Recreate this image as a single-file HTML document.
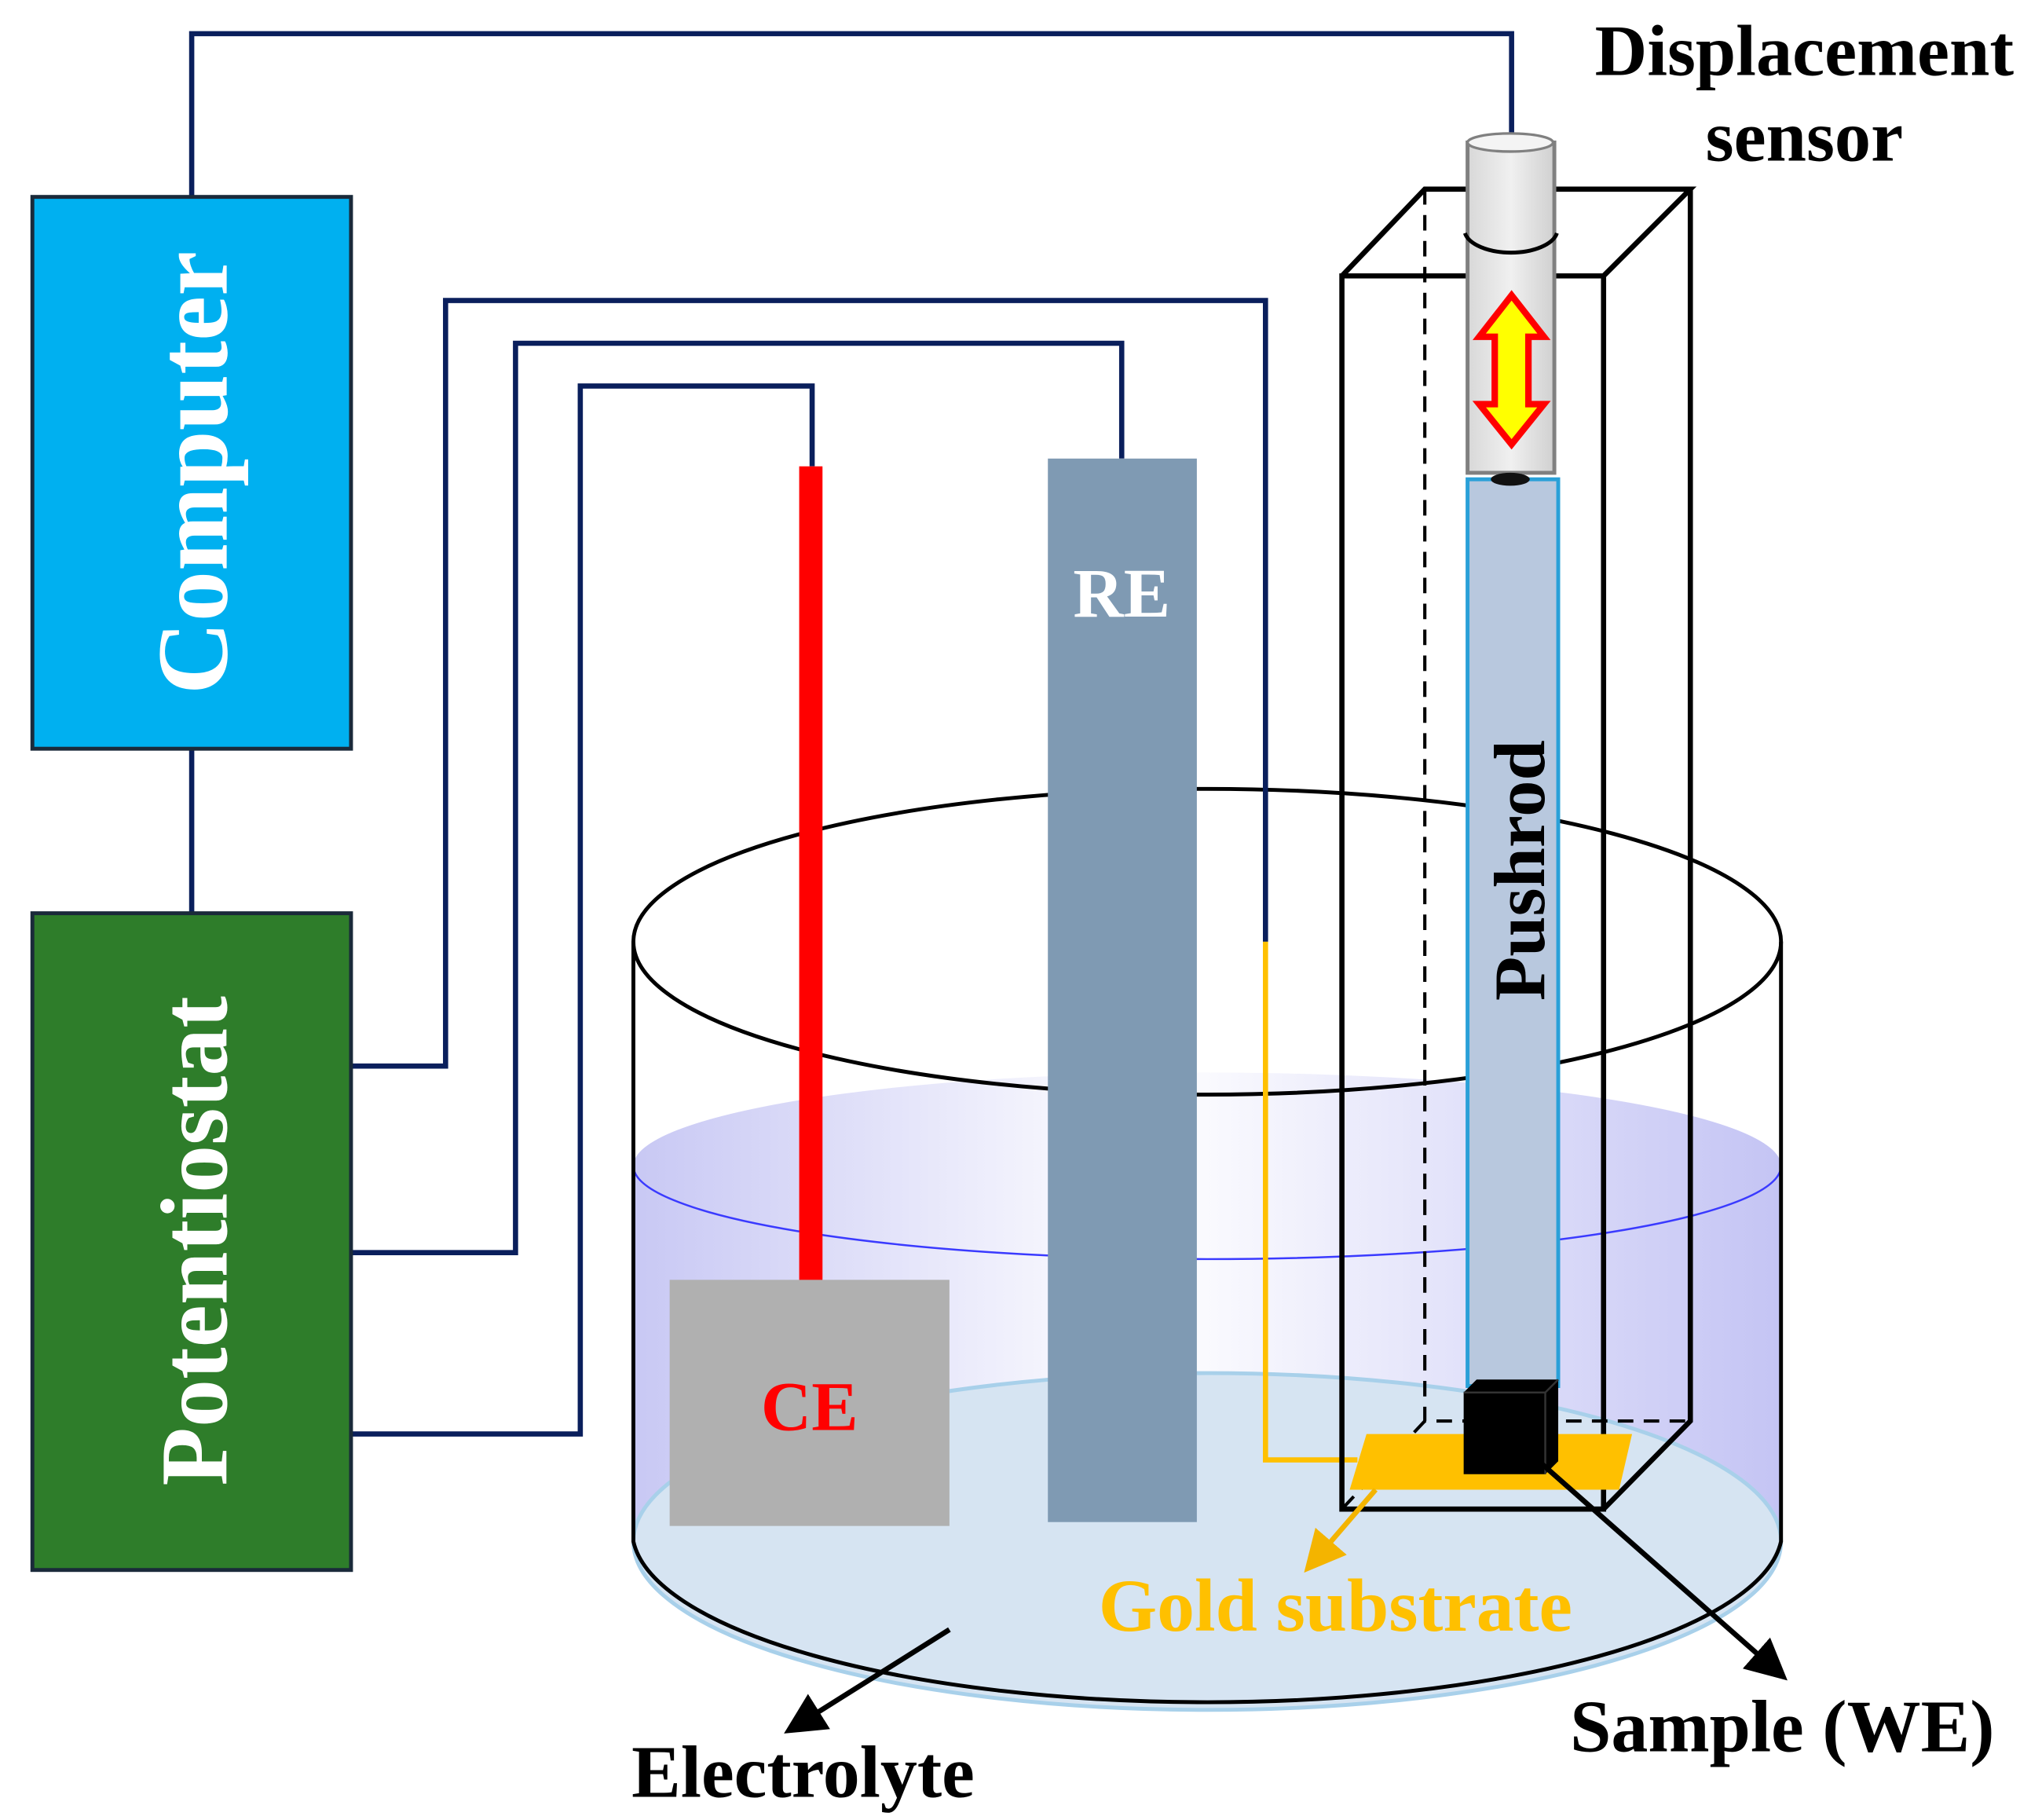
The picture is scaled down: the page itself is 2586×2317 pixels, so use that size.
<!DOCTYPE html>
<html><head><meta charset="utf-8"><style>
html,body{margin:0;padding:0;background:#fff;width:2586px;height:2317px;overflow:hidden}
svg{display:block}
text{font-family:"Liberation Serif",serif;font-weight:bold}
</style></head><body>
<svg width="2586" height="2317" viewBox="0 0 1568 1405" preserveAspectRatio="none" xmlns="http://www.w3.org/2000/svg">
<defs>
<linearGradient id="liq" x1="0" x2="1" y1="0" y2="0">
<stop offset="0" stop-color="#c8c8f4"/><stop offset="0.45" stop-color="#ffffff"/><stop offset="1" stop-color="#c4c4f4"/>
</linearGradient>
<linearGradient id="cyl" x1="0" x2="1"><stop offset="0" stop-color="#d8d8d8"/><stop offset="0.5" stop-color="#f0f0f0"/><stop offset="1" stop-color="#d0d0d0"/></linearGradient>
<marker id="ab" markerWidth="8" markerHeight="8" refX="6" refY="4" orient="auto" markerUnits="strokeWidth"><path d="M0,0 L8,4 L0,8 Z" fill="#000"/></marker>
<marker id="ao" markerWidth="8" markerHeight="8" refX="6" refY="4" orient="auto" markerUnits="strokeWidth"><path d="M0,0 L8,4 L0,8 Z" fill="#f4b400"/></marker>
</defs>
<path d="M489,900 L489,1190 A444,133 0 0 0 1375,1190 L1375,900 Z" fill="url(#liq)"/>
<ellipse cx="932" cy="900" rx="443" ry="72" fill="url(#liq)"/>
<path d="M489,900 A443,72 0 0 0 1375,900" fill="none" stroke="#3a3aff" stroke-width="1.5"/>
<ellipse cx="932" cy="1190" rx="443" ry="130" fill="#d6e4f2" stroke="#a8d0ea" stroke-width="3"/>
<path d="M489,727 L489,1190 A444,133 0 0 0 1375,1190 L1375,727" fill="none" stroke="#000" stroke-width="3"/>
<ellipse cx="932" cy="727" rx="443" ry="118" fill="none" stroke="#000" stroke-width="3"/>
<g fill="none" stroke="#0a1f5c" stroke-width="4">
<path d="M148,152 L148,26 L1167,26 L1167,103"/>
<path d="M148,578 L148,705"/>
<path d="M271,823 L344,823 L344,232 L977,232 L977,727"/>
<path d="M271,967 L398,967 L398,265 L866,265 L866,354"/>
<path d="M271,1107 L448,1107 L448,298 L627,298 L627,360"/>
</g>
<path d="M977,727 L977,1127 L1048,1127" fill="none" stroke="#ffc000" stroke-width="4"/>
<rect x="25" y="152" width="246" height="426" fill="#00b0f0" stroke="#1a2a3a" stroke-width="3"/>
<text transform="translate(175,365) rotate(-90)" text-anchor="middle" font-size="78" fill="#fff">Computer</text>
<rect x="25" y="705" width="246" height="507" fill="#2e7d2a" stroke="#1a2a3a" stroke-width="3"/>
<text transform="translate(175,958) rotate(-90)" text-anchor="middle" font-size="74" fill="#fff">Potentiostat</text>
<rect x="617" y="360" width="18" height="630" fill="#ff0000"/>
<rect x="517" y="988" width="216" height="190" fill="#b0b0b0"/>
<text x="625" y="1104" text-anchor="middle" font-size="54" fill="#ff0000">CE</text>
<rect x="809" y="354" width="115" height="821" fill="#7f9ab3"/>
<text x="866" y="476" text-anchor="middle" font-size="54" fill="#fff">RE</text>
<g fill="none" stroke="#000" stroke-width="4">
<path d="M1036,213 L1238,213 L1238,1165 L1036,1165 Z"/>
<path d="M1036,213 L1100,146 L1305,146 L1238,213"/>
<path d="M1305,146 L1305,1097 L1238,1165"/>
</g>
<g fill="none" stroke="#000" stroke-width="2.5" stroke-dasharray="12,8">
<path d="M1100,146 L1100,1097 L1305,1097"/>
<path d="M1100,1097 L1036,1165"/>
</g>
<rect x="1133" y="370" width="70" height="700" fill="#b8c8de" stroke="#2aa0d8" stroke-width="3"/>
<text transform="translate(1192,672) rotate(-90)" text-anchor="middle" font-size="56" fill="#000">Pushrod</text>
<rect x="1133" y="110" width="67" height="255" fill="url(#cyl)" stroke="#808080" stroke-width="3"/>
<ellipse cx="1166" cy="110" rx="33" ry="7" fill="#f4f4f4" stroke="#808080" stroke-width="2"/>
<path d="M1131,180 A36,18 0 0 0 1202,180" fill="none" stroke="#000" stroke-width="3"/>
<ellipse cx="1166" cy="370" rx="15" ry="5" fill="#111"/>
<path d="M1167,228 L1192,260 L1180,260 L1180,312 L1192,312 L1167,343 L1142,312 L1154,312 L1154,260 L1142,260 Z" fill="#ffff00" stroke="#ff0000" stroke-width="5"/>
<path d="M1055,1107 L1260,1107 L1250,1150 L1042,1150 Z" fill="#ffc000"/>
<path d="M1130,1075 L1140,1065 L1203,1065 L1203,1128 L1193,1138 L1130,1138 Z" fill="#000"/>
<path d="M1130,1075 L1193,1075 L1203,1065 M1193,1075 L1193,1138" stroke="#333" stroke-width="1.5" fill="none"/>
<line x1="1062" y1="1150" x2="1012" y2="1208" stroke="#f4b400" stroke-width="4" marker-end="url(#ao)"/>
<line x1="1188" y1="1128" x2="1374" y2="1292" stroke="#000" stroke-width="4" marker-end="url(#ab)"/>
<line x1="733" y1="1258" x2="612" y2="1334" stroke="#000" stroke-width="4" marker-end="url(#ab)"/>
<text x="1031" y="1259" text-anchor="middle" font-size="58" fill="#ffc000">Gold substrate</text>
<text x="1376" y="1352" text-anchor="middle" font-size="57" fill="#000">Sample (WE)</text>
<text x="620" y="1387" text-anchor="middle" font-size="57" fill="#000">Electrolyte</text>
<text x="1393" y="58" text-anchor="middle" font-size="56" fill="#000">Displacement</text>
<text x="1393" y="124" text-anchor="middle" font-size="56" fill="#000">sensor</text>
</svg>
</body></html>
